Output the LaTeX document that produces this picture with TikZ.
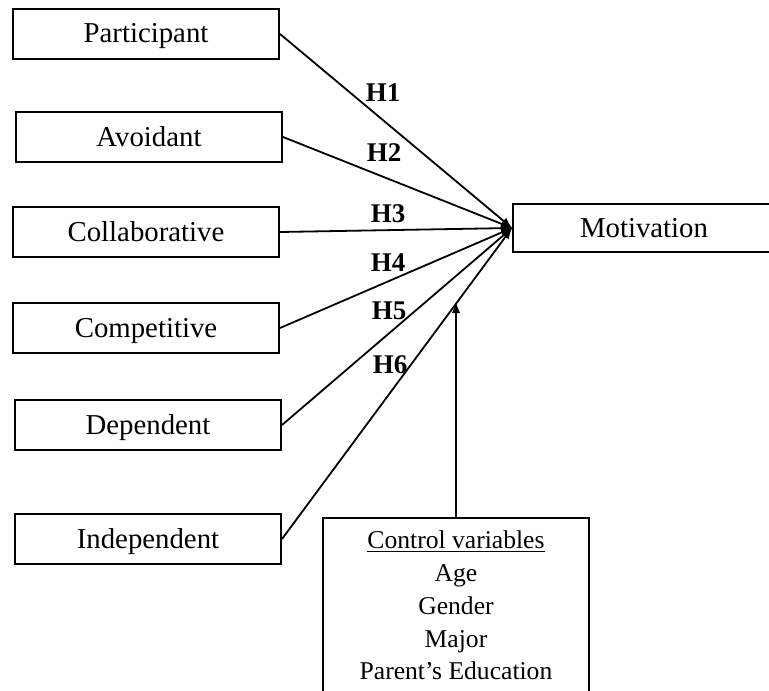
\documentclass[tikz,border=0pt]{standalone}
\usepackage{fontspec}
\setmainfont{Liberation Serif}
\usetikzlibrary{positioning}
\tikzstyle{block} = [draw, rectangle, line width=1pt, minimum height=25pt, minimum width=133pt, inner sep=0pt, text height=10pt, text depth=1pt, font=\fontsize{14.4}{17}\selectfont]
\tikzstyle{hyp} = [inner sep=0pt, font=\fontsize{13.5}{16}\selectfont\bfseries]
\tikzstyle{ctrl} = [draw, rectangle, line width=1pt, minimum width=133pt, align=center, inner ysep=6.5pt, anchor=north, font=\fontsize{12.8}{16.4}\selectfont]
\tikzstyle{output} = [coordinate]

\begin{document}
\begin{tikzpicture}[x=0.5pt, y=-0.5pt, >=latex, line width=0.9pt]
\useasboundingbox (0,0) rectangle (769,690);

% learning styles
\node [block] (participant) at (146,34) {Participant};
\node [block] (avoidant) at (149,137) {Avoidant};
\node [block] (collab) at (146,232) {Collaborative};
\node [block] (compet) at (146,328) {Competitive};
\node [block] (depend) at (148,425) {Dependent};
\node [block] (indep) at (148,539) {Independent};

\node [block, minimum width=131pt, minimum height=24pt] (motiv) at (644,228) {Motivation};

\node [ctrl] (control) at (456,517) {\underline{Control variables}\\Age\\Gender\\Major\\Parent’s Education};
\node [output] (ctrltip) at (456,302) {};

% hypotheses
\node [hyp] (h1) at (383,93) {H1};
\node [hyp] (h2) at (384,153) {H2};
\node [hyp] (h3) at (388,214) {H3};
\node [hyp] (h4) at (388,263) {H4};
\node [hyp] (h5) at (389,311) {H5};
\node [hyp] (h6) at (390,365) {H6};

\draw [->] (participant.east) -- (motiv.west);
\draw [->] (avoidant.east) -- (motiv.west);
\draw [->] (collab.east) -- (motiv.west);
\draw [->] (compet.east) -- (motiv.west);
\draw [->] (depend.east) -- (motiv.west);
\draw [->] (indep.east) -- (motiv.west);

\draw [->] (control) -- (ctrltip);

\end{tikzpicture}
\end{document}
